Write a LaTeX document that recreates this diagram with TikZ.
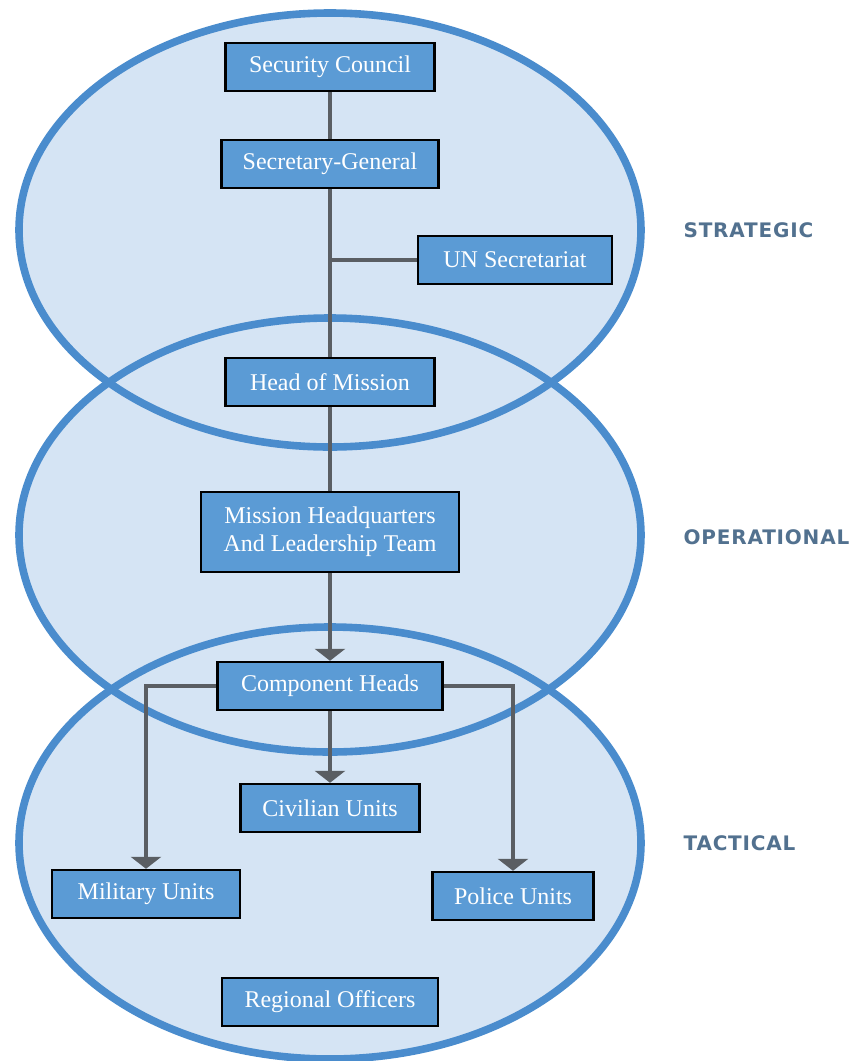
\documentclass[tikz,border=0pt]{standalone}
\usepackage{fontspec}
\setmainfont{Liberation Serif}
\newfontfamily\levelfont[LetterSpace=4]{DejaVu Sans}
\usetikzlibrary{arrows.meta,positioning}
\definecolor{ringblue}{HTML}{4A8CCD}
\definecolor{ringfill}{HTML}{D5E4F4}
\definecolor{boxblue}{HTML}{5B9BD5}
\definecolor{linkgray}{HTML}{5A5E63}
\definecolor{levelgray}{HTML}{52718F}

\begin{document}
\begin{tikzpicture}[x=0.5pt, y=-0.5pt, semithick,
unit/.style ={rectangle, fill=boxblue, draw=black, line width=1.2pt,
text=white, font=\fontsize{12}{14}\selectfont, align=center,
minimum height=24pt, inner sep=0pt},
link/.style ={draw=linkgray, line width=2pt},
tip/.style ={-{Triangle[width=15pt,length=6pt]}},
ring/.style ={draw=ringblue, line width=3.8pt},
level/.style ={anchor=west, inner sep=0pt, text=levelgray,
font=\levelfont\bfseries\fontsize{10}{12}\selectfont}]
\useasboundingbox (0,0) rectangle (857,1061);

% the three levels
\fill[ringfill] (330,230) ellipse [x radius=155.5pt, y radius=108.5pt];
\fill[ringfill] (330,535) ellipse [x radius=155.5pt, y radius=108.5pt];
\fill[ringfill] (330,843) ellipse [x radius=155.5pt, y radius=108pt];
\draw[ring] (330,230) ellipse [x radius=155.5pt, y radius=108.5pt];
\draw[ring] (330,535) ellipse [x radius=155.5pt, y radius=108.5pt];
\draw[ring] (330,843) ellipse [x radius=155.5pt, y radius=108pt];

\node[level] (s) at (683,230) {STRATEGIC};
\node[level] (o) at (683,537) {OPERATIONAL};
\node[level] (t) at (683,843) {TACTICAL};

\node[unit, minimum width=104.5pt] (1) at (330,67) {Security Council};
\node[unit, minimum width=108.5pt] (2) at (330,164) {Secretary-General};
\node[unit, minimum width=97pt] (3) at (515,260) {UN Secretariat};
\node[unit, minimum width=104.5pt] (4) at (330,382) {Head of Mission};
\node[unit, minimum width=129pt, minimum height=40pt] (5) at (330,532)
{Mission Headquarters\\And Leadership Team};
\node[unit, minimum width=112.5pt] (6) at (330,686) {Component Heads};
\node[unit, minimum width=94pt] (7) at (146,894) {Military Units};
\node[unit, minimum width=89.5pt] (8) at (330,808) {Civilian Units};
\node[unit, minimum width=80.5pt] (9) at (513,896) {Police Units};
\node[unit, minimum width=108pt] (10) at (330,1002) {Regional Officers};

\draw[link] (1) -- (2);
\draw[link] (2) -- (4);
\draw[link] (2 |- 3) -- (3);
\draw[link] (4) -- (5);
\draw[link,tip] (5) -- (6);
\draw[link,tip] (6) -- (8);
\draw[link,tip] (6.west) -| (7);
\draw[link,tip] (6.east) -| (9);
\end{tikzpicture}
\end{document}
